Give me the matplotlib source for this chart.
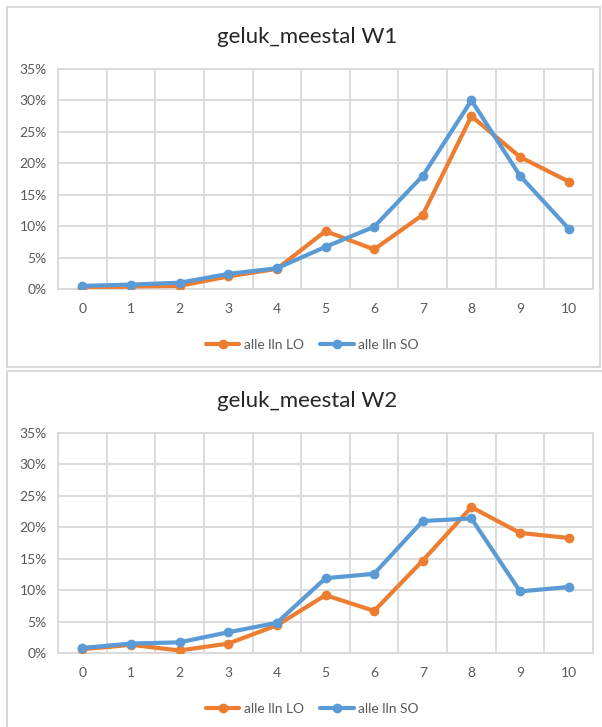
import matplotlib
matplotlib.use("Agg")
import matplotlib.pyplot as plt
from matplotlib.patches import Rectangle
from matplotlib.ticker import FixedLocator

plt.rcParams['font.family'] = ['Lato', 'DejaVu Sans']

# scores 0..10
categories = list(range(11))

# geluk_meestal W1 (percent)
w1_lo = [0.1, 0.4, 0.5, 2.0, 3.2, 9.2, 6.3, 11.8, 27.5, 21.0, 17.1]
w1_so = [0.5, 0.7, 1.0, 2.4, 3.3, 6.7, 9.9, 18.0, 30.0, 18.0, 9.6]

# geluk_meestal W2 (percent)
w2_lo = [0.6, 1.3, 0.4, 1.5, 4.4, 9.2, 6.7, 14.7, 23.2, 19.1, 18.3]
w2_so = [0.8, 1.5, 1.7, 3.3, 4.8, 11.9, 12.6, 21.0, 21.4, 9.8, 10.5]

titles = ["geluk_meestal W1", "geluk_meestal W2"]
series_names = ["alle lln LO", "alle lln SO"]
yticks = [0, 5, 10, 15, 20, 25, 30, 35]

ORANGE = '#ED7D31'
BLUE = '#5B9BD5'
GRID = '#D9D9D9'
TEXT = '#595959'

fig = plt.figure(figsize=(6.02, 7.27), dpi=100)

# chart frames like in Excel
fig.patches.append(Rectangle((7 / 602, 1 - 367 / 727), 593 / 602, 360 / 727,
                             transform=fig.transFigure, fill=False,
                             edgecolor=GRID, linewidth=1.5))
fig.patches.append(Rectangle((7 / 602, -0.05), 1.0, 1 - 371 / 727 + 0.05,
                             transform=fig.transFigure, fill=False,
                             edgecolor=GRID, linewidth=1.5))

panels = [(w1_lo, w1_so), (w2_lo, w2_so)]
bottoms = [1 - 289 / 727, 1 - 653 / 727]

for (lo, so), title, bottom in zip(panels, titles, bottoms):
    ax = fig.add_axes([58 / 602, bottom, 535 / 602, 220 / 727])
    ax.plot(categories, lo, color=ORANGE, lw=3, marker='o', ms=6,
            label=series_names[0], solid_capstyle='round', zorder=3)
    ax.plot(categories, so, color=BLUE, lw=3, marker='o', ms=6,
            label=series_names[1], solid_capstyle='round', zorder=4)

    ax.set_xlim(-0.5, 10.5)
    ax.set_ylim(0, 35)
    ax.set_xticks(categories)
    ax.set_xticklabels([str(c) for c in categories])
    ax.xaxis.set_minor_locator(FixedLocator([c - 0.5 for c in categories] + [10.5]))
    ax.set_yticks(yticks)
    ax.set_yticklabels([f"{v}%" for v in yticks])
    ax.tick_params(which='both', length=0, labelsize=10, labelcolor=TEXT)
    ax.tick_params(axis='x', pad=10)
    ax.tick_params(axis='y', pad=8)

    ax.grid(True, axis='y', which='major', color=GRID, lw=1.3)
    ax.grid(True, axis='x', which='minor', color=GRID, lw=1.3)
    ax.set_axisbelow(True)
    for s in ax.spines.values():
        s.set_color(GRID)
        s.set_linewidth(1.3)

    ax.set_title(title, fontsize=16, color='#262626', pad=19, x=0.465)
    ax.legend(loc='center', bbox_to_anchor=(0.475, -0.255), ncol=2,
              frameon=False, fontsize=10, handlelength=2.4,
              columnspacing=1.2, handletextpad=0.3, labelcolor=TEXT)

fig.savefig("out.png", dpi=100)
